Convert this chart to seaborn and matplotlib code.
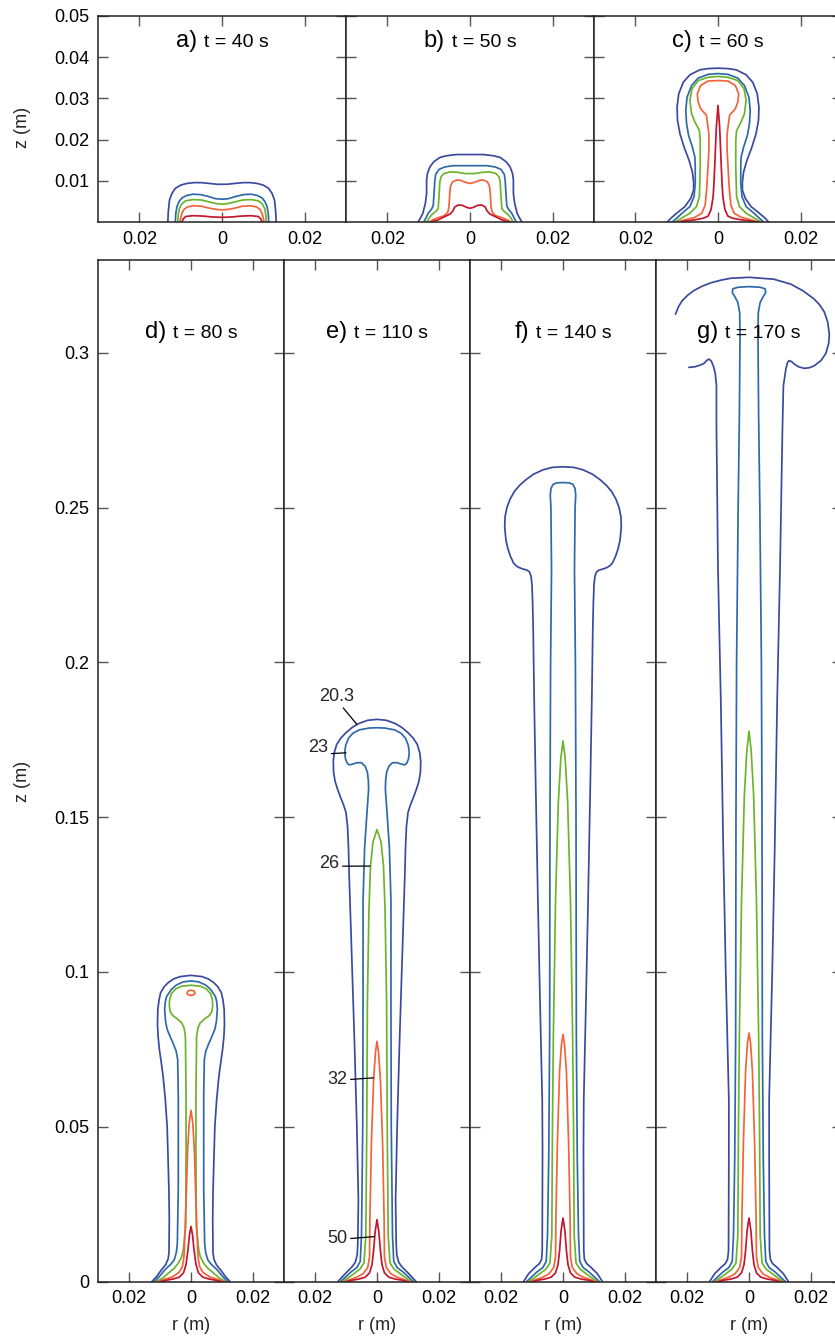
import numpy as np
import pandas as pd
import matplotlib
matplotlib.use("Agg")
import matplotlib.pyplot as plt
import seaborn as sns
from matplotlib.offsetbox import TextArea, HPacker, AnchoredOffsetbox

# ---------------- data ----------------
LEVEL_NAMES = ["20.3", "23", "26", "32", "50"]
LEVEL_COLORS = ["#3c4a9e", "#2f6aa8", "#6cb42c", "#f2643a", "#c4162e"]

PANEL_LETTERS_TOP = ["a)", "b)", "c)"]
TIMES_TOP = [40, 50, 60]
PANEL_LETTERS_BOTTOM = ["d)", "e)", "f)", "g)"]
TIMES_BOTTOM = [80, 110, 140, 170]

X_TICKS = [-0.02, 0.0, 0.02]
X_TICK_LABELS = ["0.02", "0", "0.02"]
Y_TICKS_TOP = [0.01, 0.02, 0.03, 0.04, 0.05]
Y_TICK_LABELS_TOP = ["0.01", "0.02", "0.03", "0.04", "0.05"]
Y_TICKS_BOTTOM = [0, 0.05, 0.1, 0.15, 0.2, 0.25, 0.3]
Y_TICK_LABELS_BOTTOM = ["0", "0.05", "0.1", "0.15", "0.2", "0.25", "0.3"]

# right-half contour profiles (r, z) in metres, from the base up to the axis
a_203 = [(0.0131, 0), (0.0130, 0.0025), (0.0127, 0.0054), (0.0121, 0.0070), (0.0113, 0.0082),
         (0.0100, 0.0090), (0.0085, 0.0094), (0.0068, 0.0096), (0.0051, 0.0096), (0.0030, 0.0094),
         (0.0012, 0.0092), (0, 0.0092)]
a_23 = [(0.0113, 0), (0.0112, 0.0020), (0.0109, 0.0038), (0.0104, 0.0050), (0.0097, 0.0059),
        (0.0085, 0.0065), (0.0070, 0.0068), (0.0052, 0.0067), (0.0035, 0.0063), (0.0015, 0.0057),
        (0, 0.0056)]
a_26 = [(0.0107, 0), (0.0106, 0.0018), (0.0103, 0.0034), (0.0097, 0.0045), (0.0088, 0.0052),
        (0.0070, 0.0055), (0.0050, 0.0054), (0.0030, 0.0049), (0.0012, 0.0045), (0, 0.0044)]
a_32 = [(0.0102, 0), (0.0100, 0.0010), (0.0097, 0.0022), (0.0092, 0.0031), (0.0084, 0.0037),
        (0.0070, 0.0040), (0.0050, 0.0039), (0.0030, 0.0034), (0.0012, 0.0031), (0, 0.0030)]
a_50 = [(0.0097, 0), (0.0094, 0.0008), (0.0088, 0.0014), (0.0070, 0.0016), (0.0045, 0.0015),
        (0.0025, 0.0013), (0, 0.0012)]

b_203 = [(0.0126, 0), (0.0119, 0.0012), (0.0114, 0.0022), (0.0108, 0.0046), (0.0105, 0.0070),
         (0.0105, 0.0102), (0.0103, 0.0118), (0.0097, 0.0134), (0.0088, 0.0146), (0.0073, 0.0157),
         (0.0057, 0.0161), (0.0033, 0.0164), (0, 0.0164)]
b_23 = [(0.0112, 0), (0.0106, 0.0012), (0.0101, 0.0022), (0.0093, 0.0032), (0.0089, 0.0040),
        (0.0087, 0.0070), (0.0085, 0.0102), (0.0083, 0.0116), (0.0075, 0.0128), (0.0061, 0.0134),
        (0.0041, 0.0137), (0, 0.0137)]
b_26 = [(0.0105, 0), (0.0099, 0.0010), (0.0093, 0.0018), (0.0083, 0.0026), (0.0077, 0.0033),
        (0.0075, 0.0062), (0.0073, 0.0098), (0.0070, 0.0110), (0.0063, 0.0118), (0.0048, 0.0122),
        (0.0030, 0.0121), (0.0012, 0.0118), (0, 0.0118)]
b_32 = [(0.0100, 0), (0.0090, 0.0006), (0.0078, 0.0011), (0.0062, 0.0016), (0.0054, 0.0024),
        (0.0051, 0.0036), (0.0049, 0.0070), (0.0047, 0.0088), (0.0042, 0.0098), (0.0033, 0.0102),
        (0.0024, 0.0102), (0.0012, 0.0097), (0, 0.0094)]
b_50 = [(0.0096, 0), (0.0087, 0.0003), (0.0077, 0.0006), (0.0061, 0.0014), (0.0048, 0.0020),
        (0.0041, 0.0028), (0.0037, 0.0037), (0.0028, 0.0042), (0.0018, 0.0041), (0.0008, 0.0036),
        (0, 0.0034)]

c_203 = [(0.0123, 0), (0.0114, 0.0010), (0.0100, 0.0022), (0.0080, 0.0038), (0.0066, 0.0058),
         (0.0059, 0.0078), (0.0059, 0.0098), (0.0062, 0.0122), (0.0070, 0.0150), (0.0082, 0.0182),
         (0.0092, 0.0214), (0.0098, 0.0247), (0.0099, 0.0279), (0.0095, 0.0311), (0.0084, 0.0339),
         (0.0068, 0.0357), (0.0044, 0.0369), (0.0024, 0.0372), (0, 0.0373)]
c_23 = [(0.0111, 0), (0.0100, 0.0010), (0.0087, 0.0022), (0.0068, 0.0038), (0.0058, 0.0062),
        (0.0055, 0.0094), (0.0055, 0.0134), (0.0056, 0.0158), (0.0062, 0.0182), (0.0071, 0.0210),
        (0.0076, 0.0238), (0.0078, 0.0270), (0.0075, 0.0302), (0.0064, 0.0331), (0.0048, 0.0349),
        (0.0024, 0.0358), (0, 0.0360)]
c_26 = [(0.0105, 0), (0.0088, 0.0010), (0.0068, 0.0022), (0.0052, 0.0038), (0.0045, 0.0062),
        (0.0043, 0.0134), (0.0043, 0.0198), (0.0045, 0.0222), (0.0056, 0.0243), (0.0064, 0.0263),
        (0.0068, 0.0295), (0.0063, 0.0323), (0.0048, 0.0343), (0.0024, 0.0351), (0, 0.0353)]
c_32 = [(0.0100, 0), (0.0080, 0.0006), (0.0056, 0.0012), (0.0039, 0.0022), (0.0031, 0.0042),
        (0.0027, 0.0086), (0.0022, 0.0174), (0.0022, 0.0214), (0.0028, 0.0259), (0.0042, 0.0275),
        (0.0048, 0.0291), (0.0050, 0.0311), (0.0042, 0.0331), (0.0024, 0.0342), (0, 0.0343)]
c_50 = [(0.0096, 0), (0.0080, 0.0003), (0.0056, 0.0006), (0.0035, 0.0010), (0.0024, 0.0015),
        (0.0017, 0.0030), (0.0012, 0.0060), (0.0010, 0.0090), (0.0008, 0.0134), (0.0004, 0.0230),
        (0, 0.0283)]

d_203 = [(0.0126, 0), (0.0111, 0.0016), (0.0095, 0.0038), (0.0082, 0.0054), (0.0074, 0.0072),
         (0.0071, 0.0092), (0.0070, 0.0200), (0.0071, 0.0286), (0.0074, 0.0400), (0.0077, 0.0502),
         (0.0083, 0.0590), (0.0090, 0.0663), (0.0097, 0.0715), (0.0102, 0.0750), (0.0106, 0.0790),
         (0.0108, 0.0830), (0.0107, 0.0879), (0.0103, 0.0910), (0.0098, 0.0933), (0.0086, 0.0953),
         (0.0073, 0.0966), (0.0055, 0.0978), (0.0035, 0.0985), (0, 0.0989)]
d_23 = [(0.0118, 0), (0.0103, 0.0015), (0.0084, 0.0038), (0.0065, 0.0056), (0.0054, 0.0070),
        (0.0047, 0.0095), (0.0044, 0.0124), (0.0041, 0.0300), (0.0041, 0.0600), (0.0043, 0.0717),
        (0.0048, 0.0745), (0.0058, 0.0770), (0.0068, 0.0793), (0.0077, 0.0815), (0.0082, 0.0840),
        (0.0085, 0.0880), (0.0083, 0.0903), (0.0079, 0.0920), (0.0063, 0.0944), (0.0047, 0.0958),
        (0.0025, 0.0968), (0, 0.0971)]
d_26 = [(0.0111, 0), (0.0090, 0.0012), (0.0073, 0.0027), (0.0055, 0.0042), (0.0041, 0.0059),
        (0.0030, 0.0080), (0.0025, 0.0102), (0.0017, 0.0178), (0.0016, 0.0400), (0.0016, 0.0609),
        (0.0018, 0.0790), (0.0022, 0.0818), (0.0030, 0.0836), (0.0045, 0.0849), (0.0060, 0.0860),
        (0.0067, 0.0872), (0.0070, 0.0890), (0.0069, 0.0910), (0.0063, 0.0930), (0.0050, 0.0945),
        (0.0030, 0.0954), (0, 0.0957)]
d_32 = [(0.0106, 0), (0.0085, 0.0007), (0.0060, 0.0015), (0.0038, 0.0030), (0.0028, 0.0048),
        (0.0024, 0.0070), (0.0022, 0.0091), (0.0018, 0.0200), (0.0015, 0.0286), (0.0011, 0.0420),
        (0.0006, 0.0510), (0, 0.0553)]
d_32_loop = [(0, 0.0924), (0.0009, 0.0926), (0.0013, 0.0932), (0.0009, 0.0939), (0, 0.0941)]
d_50 = [(0.0096, 0), (0.0080, 0.0004), (0.0058, 0.0008), (0.0038, 0.0014), (0.0024, 0.0028),
        (0.0016, 0.0055), (0.0010, 0.0100), (0.0005, 0.0150), (0, 0.0178)]

e_203 = [(0.0126, 0), (0.0112, 0.0015), (0.0095, 0.0033), (0.0080, 0.0048), (0.0070, 0.0062),
         (0.0064, 0.0085), (0.0062, 0.0120), (0.0060, 0.0264), (0.0065, 0.0500), (0.0072, 0.0750),
         (0.0077, 0.0911), (0.0083, 0.1100), (0.0090, 0.1320), (0.0092, 0.1400), (0.0095, 0.1470),
         (0.0100, 0.1515), (0.0108, 0.1540), (0.0118, 0.1565), (0.0127, 0.1590), (0.0135, 0.1615),
         (0.0140, 0.1645), (0.0141, 0.1680), (0.0138, 0.1708), (0.0130, 0.1735), (0.0117, 0.1755),
         (0.0100, 0.1773), (0.0080, 0.1790), (0.0058, 0.1803), (0.0030, 0.1813), (0, 0.1816)]
e_23 = [(0.0117, 0), (0.0104, 0.0012), (0.0085, 0.0030), (0.0065, 0.0045), (0.0054, 0.0065),
        (0.0050, 0.0150), (0.0046, 0.0500), (0.0045, 0.0900), (0.0045, 0.1230), (0.0040, 0.1400),
        (0.0032, 0.1520), (0.0027, 0.1590), (0.0028, 0.1620), (0.0031, 0.1645), (0.0038, 0.1664),
        (0.0050, 0.1676), (0.0065, 0.1676), (0.0080, 0.1671), (0.0090, 0.1669), (0.0097, 0.1676),
        (0.0102, 0.1690), (0.0104, 0.1710), (0.0101, 0.1732), (0.0092, 0.1755), (0.0078, 0.1771),
        (0.0057, 0.1782), (0.0025, 0.1788), (0, 0.1789)]
e_26 = [(0.0111, 0), (0.0095, 0.0010), (0.0075, 0.0025), (0.0055, 0.0040), (0.0042, 0.0060),
        (0.0036, 0.0150), (0.0033, 0.0500), (0.0031, 0.0900), (0.0026, 0.1200), (0.0021, 0.1342),
        (0.0013, 0.1420), (0, 0.1460)]
e_32 = [(0.0105, 0), (0.0088, 0.0006), (0.0065, 0.0014), (0.0045, 0.0025), (0.0030, 0.0045),
        (0.0024, 0.0080), (0.0023, 0.0200), (0.0018, 0.0450), (0.0011, 0.0650), (0.0005, 0.0740),
        (0, 0.0776)]
e_50 = [(0.0096, 0), (0.0082, 0.0004), (0.0058, 0.0008), (0.0038, 0.0014), (0.0024, 0.0028),
        (0.0016, 0.0055), (0.0011, 0.0100), (0.0006, 0.0160), (0, 0.0200)]

f_203 = [(0.0127, 0), (0.0111, 0.0025), (0.0090, 0.0046), (0.0076, 0.0058), (0.0069, 0.0072),
         (0.0067, 0.0100), (0.0066, 0.0426), (0.0067, 0.0588), (0.0074, 0.0900), (0.0081, 0.1234),
         (0.0088, 0.1600), (0.0093, 0.1881), (0.0096, 0.2100), (0.0098, 0.2193), (0.0100, 0.2250),
         (0.0103, 0.2278), (0.0108, 0.2292), (0.0116, 0.2298), (0.0130, 0.2302), (0.0143, 0.2307),
         (0.0152, 0.2313), (0.0160, 0.2322), (0.0170, 0.2344), (0.0178, 0.2368), (0.0184, 0.2395),
         (0.0188, 0.2436), (0.0187, 0.2470), (0.0181, 0.2500), (0.0171, 0.2527), (0.0157, 0.2552),
         (0.0140, 0.2572), (0.0120, 0.2590), (0.0095, 0.2608), (0.0065, 0.2622), (0.0035, 0.2630),
         (0, 0.2632)]
f_23 = [(0.0117, 0), (0.0104, 0.0012), (0.0085, 0.0030), (0.0065, 0.0045), (0.0054, 0.0065),
        (0.0050, 0.0150), (0.0046, 0.0400), (0.0043, 0.0800), (0.0042, 0.1500), (0.0040, 0.2000),
        (0.0037, 0.2300), (0.0039, 0.2500), (0.0041, 0.2540), (0.0039, 0.2562), (0.0032, 0.2575),
        (0.0020, 0.2580), (0, 0.2581)]
f_26 = [(0.0111, 0), (0.0095, 0.0010), (0.0075, 0.0025), (0.0055, 0.0040), (0.0042, 0.0060),
        (0.0036, 0.0150), (0.0034, 0.0500), (0.0031, 0.0800), (0.0024, 0.1234), (0.0015, 0.1550),
        (0.0007, 0.1690), (0, 0.1746)]
f_32 = [(0.0105, 0), (0.0088, 0.0006), (0.0065, 0.0014), (0.0045, 0.0025), (0.0030, 0.0045),
        (0.0024, 0.0080), (0.0023, 0.0200), (0.0018, 0.0450), (0.0011, 0.0680), (0.0005, 0.0765),
        (0, 0.0798)]
f_50 = [(0.0096, 0), (0.0082, 0.0004), (0.0058, 0.0008), (0.0038, 0.0014), (0.0024, 0.0028),
        (0.0016, 0.0055), (0.0011, 0.0100), (0.0006, 0.0165), (0, 0.0205)]

g_203_right = [(0.0127, 0), (0.0111, 0.0025), (0.0090, 0.0046), (0.0076, 0.0058), (0.0069, 0.0072),
               (0.0066, 0.0100), (0.0065, 0.0400), (0.0065, 0.0588), (0.0075, 0.1000), (0.0083, 0.1400),
               (0.0091, 0.1881), (0.0100, 0.2300), (0.0108, 0.2760), (0.0111, 0.2894), (0.0119, 0.2948),
               (0.0124, 0.2968), (0.0129, 0.2975), (0.0137, 0.2972), (0.0146, 0.2964), (0.0160, 0.2955),
               (0.0178, 0.2950), (0.0195, 0.2952), (0.0210, 0.2958), (0.0232, 0.2975), (0.0248, 0.2998),
               (0.0257, 0.3030), (0.0259, 0.3060), (0.0254, 0.3099), (0.0243, 0.3132), (0.0228, 0.3155),
               (0.0210, 0.3174), (0.0175, 0.3200), (0.0135, 0.3222), (0.0080, 0.3238), (0, 0.3244)]
g_203_left_lower = [(0.0127, 0), (0.0111, 0.0025), (0.0090, 0.0046), (0.0076, 0.0058), (0.0069, 0.0072),
                    (0.0066, 0.0100), (0.0065, 0.0400), (0.0065, 0.0588), (0.0075, 0.1000),
                    (0.0083, 0.1400), (0.0091, 0.1881), (0.0100, 0.2300), (0.0105, 0.2764),
                    (0.0105, 0.2894), (0.0109, 0.2935), (0.0115, 0.2958), (0.0122, 0.2974),
                    (0.0129, 0.2980), (0.0137, 0.2975), (0.0145, 0.2966), (0.0156, 0.2961),
                    (0.0175, 0.2955), (0.0194, 0.2953)]
g_203_left_upper = [(0.0237, 0.3125), (0.0228, 0.3148), (0.0216, 0.3168), (0.0198, 0.3186),
                    (0.0178, 0.3201), (0.0152, 0.3215), (0.0124, 0.3226), (0.0090, 0.3235),
                    (0.0059, 0.3241), (0, 0.3244)]
g_23 = [(0.0117, 0), (0.0104, 0.0012), (0.0085, 0.0030), (0.0065, 0.0045), (0.0054, 0.0065),
        (0.0050, 0.0150), (0.0046, 0.0400), (0.0043, 0.0800), (0.0042, 0.1500), (0.0040, 0.2000),
        (0.0035, 0.2500), (0.0031, 0.2800), (0.0029, 0.3050), (0.0030, 0.3130), (0.0036, 0.3163),
        (0.0046, 0.3182), (0.0054, 0.3195), (0.0052, 0.3207), (0.0035, 0.3212), (0, 0.3214)]
g_26 = [(0.0111, 0), (0.0095, 0.0010), (0.0075, 0.0025), (0.0055, 0.0040), (0.0042, 0.0060),
        (0.0036, 0.0150), (0.0034, 0.0500), (0.0031, 0.0800), (0.0024, 0.1234), (0.0015, 0.1570),
        (0.0007, 0.1715), (0, 0.1778)]
g_32 = [(0.0105, 0), (0.0088, 0.0006), (0.0065, 0.0014), (0.0045, 0.0025), (0.0030, 0.0045),
        (0.0024, 0.0080), (0.0023, 0.0200), (0.0018, 0.0450), (0.0011, 0.0680), (0.0005, 0.0770),
        (0, 0.0803)]
g_50 = [(0.0096, 0), (0.0082, 0.0004), (0.0058, 0.0008), (0.0038, 0.0014), (0.0024, 0.0028),
        (0.0016, 0.0055), (0.0011, 0.0100), (0.0006, 0.0165), (0, 0.0205)]

# contour labels drawn in panel e
E_LABELS = ["20.3", "23", "26", "32", "50"]

# ---------------- helpers ----------------
def mirrored(half):
    h = np.asarray(half, float)
    left = np.column_stack([-h[:, 0], h[:, 1]])
    return np.vstack([left, h[::-1]])


def left_only(half):
    h = np.asarray(half, float)
    return np.column_stack([-h[:, 0], h[:, 1]])


def frame(pieces):
    parts = []
    for i, (lev, pts) in enumerate(pieces):
        parts.append(pd.DataFrame({"r": pts[:, 0], "z": pts[:, 1], "level": lev, "piece": i}))
    return pd.concat(parts, ignore_index=True)


def sym_pieces(halves):
    return [(lev, mirrored(h)) for lev, h in zip(LEVEL_NAMES, halves)]


panels_top = [
    sym_pieces([a_203, a_23, a_26, a_32, a_50]),
    sym_pieces([b_203, b_23, b_26, b_32, b_50]),
    sym_pieces([c_203, c_23, c_26, c_32, c_50]),
]
g_navy_a = np.vstack([left_only(g_203_left_upper), np.asarray(g_203_right, float)[::-1]])
g_navy_b = left_only(g_203_left_lower)
panels_bottom = [
    sym_pieces([d_203, d_23, d_26, d_32, d_50]) + [("32", mirrored(d_32_loop))],
    sym_pieces([e_203, e_23, e_26, e_32, e_50]),
    sym_pieces([f_203, f_23, f_26, f_32, f_50]),
    [("20.3", g_navy_a), ("20.3", g_navy_b)]
    + [(lev, mirrored(h)) for lev, h in zip(LEVEL_NAMES[1:], [g_23, g_26, g_32, g_50])],
]

# ---------------- figure ----------------
sns.set_theme(style="ticks")
plt.rcParams["font.family"] = ["Liberation Sans", "DejaVu Sans"]
plt.rcParams["axes.linewidth"] = 1.1
plt.rcParams["axes.edgecolor"] = "#222222"
plt.rcParams["lines.solid_joinstyle"] = "round"

W, H = 835, 1337
fig = plt.figure(figsize=(W / 100, H / 100), dpi=100)


def add_ax(x0, y_top, w, y_bot):
    return fig.add_axes([x0 / W, (H - y_bot) / H, w / W, (y_bot - y_top) / H])


def style_ax(ax, yticks, ylabels, show_ylabels):
    ax.set_xlim(-0.03, 0.03)
    ax.set_xticks(X_TICKS)
    ax.set_xticklabels(X_TICK_LABELS)
    ax.set_yticks(yticks)
    ax.set_yticklabels(ylabels if show_ylabels else [])
    ax.tick_params(direction="in", length=7, width=1.0, color="#555555", labelcolor="black",
                   labelsize=13, top=True, right=True, bottom=True, left=True, pad=6)
    ax.set_xlabel("")
    ax.set_ylabel("")
    for s in ax.spines.values():
        s.set_visible(True)
        s.set_color("#222222")


def add_title(ax, letter, t, yfrac):
    ta = TextArea(letter, textprops=dict(size=17, color="black"))
    tb = TextArea(f"t = {t} s", textprops=dict(size=14, color="black"))
    box = HPacker(children=[ta, tb], align="baseline", pad=0, sep=5)
    anc = AnchoredOffsetbox(loc="center", child=box, pad=0, borderpad=0, frameon=False,
                            bbox_to_anchor=(0.5, yfrac), bbox_transform=ax.transAxes)
    anc.set_zorder(5)
    ax.add_artist(anc)


def draw_panel(ax, pieces):
    df = frame(pieces)
    sns.lineplot(data=df, x="r", y="z", hue="level", hue_order=LEVEL_NAMES,
                 palette=LEVEL_COLORS, units="piece", estimator=None, sort=False,
                 legend=False, linewidth=1.25, ax=ax)


top_lefts = [98, 346, 594]
for i, (pieces, letter, t) in enumerate(zip(panels_top, PANEL_LETTERS_TOP, TIMES_TOP)):
    ax = add_ax(top_lefts[i], 15.7, 248, 222.3)
    draw_panel(ax, pieces)
    ax.set_ylim(0, 0.05)
    style_ax(ax, Y_TICKS_TOP, Y_TICK_LABELS_TOP, i == 0)
    add_title(ax, letter, t, 0.877)
    if i == 0:
        ax.set_ylabel("z (m)", fontsize=13)
        ax.yaxis.set_label_coords(-0.27, 0.46)

bottom_lefts = [98, 284, 470, 656]
for i, (pieces, letter, t) in enumerate(zip(panels_bottom, PANEL_LETTERS_BOTTOM, TIMES_BOTTOM)):
    ax = add_ax(bottom_lefts[i], 260, 186, 1281.5)
    draw_panel(ax, pieces)
    ax.set_ylim(0, 0.33)
    style_ax(ax, Y_TICKS_BOTTOM, Y_TICK_LABELS_BOTTOM, i == 0)
    add_title(ax, letter, t, 0.930)
    ax.set_xlabel("r (m)", fontsize=13, labelpad=7)
    if i == 0:
        ax.set_ylabel("z (m)", fontsize=13)
        ax.yaxis.set_label_coords(-0.36, 0.49)
    if i == 1:
        label_text_pos = [(-0.0129, 0.1891), (-0.0190, 0.1724), (-0.0154, 0.1350),
                          (-0.0128, 0.0652), (-0.0128, 0.0138)]
        label_targets = [(-0.0065, 0.1800), (-0.0100, 0.1708), (-0.0022, 0.1342),
                         (-0.0011, 0.0658), (-0.0009, 0.0145)]
        relpos = [(0.6, 0.0), (1.0, 0.15), (1.0, 0.35), (1.0, 0.5), (1.0, 0.5)]
        for txt, tp, tg, rp in zip(E_LABELS, label_text_pos, label_targets, relpos):
            ax.annotate(txt, xy=tg, xytext=tp, ha="center", va="center", fontsize=13,
                        arrowprops=dict(arrowstyle="-", lw=0.9, color="black",
                                        shrinkA=0, shrinkB=0, relpos=rp))

fig.savefig("out.png", dpi=100)
